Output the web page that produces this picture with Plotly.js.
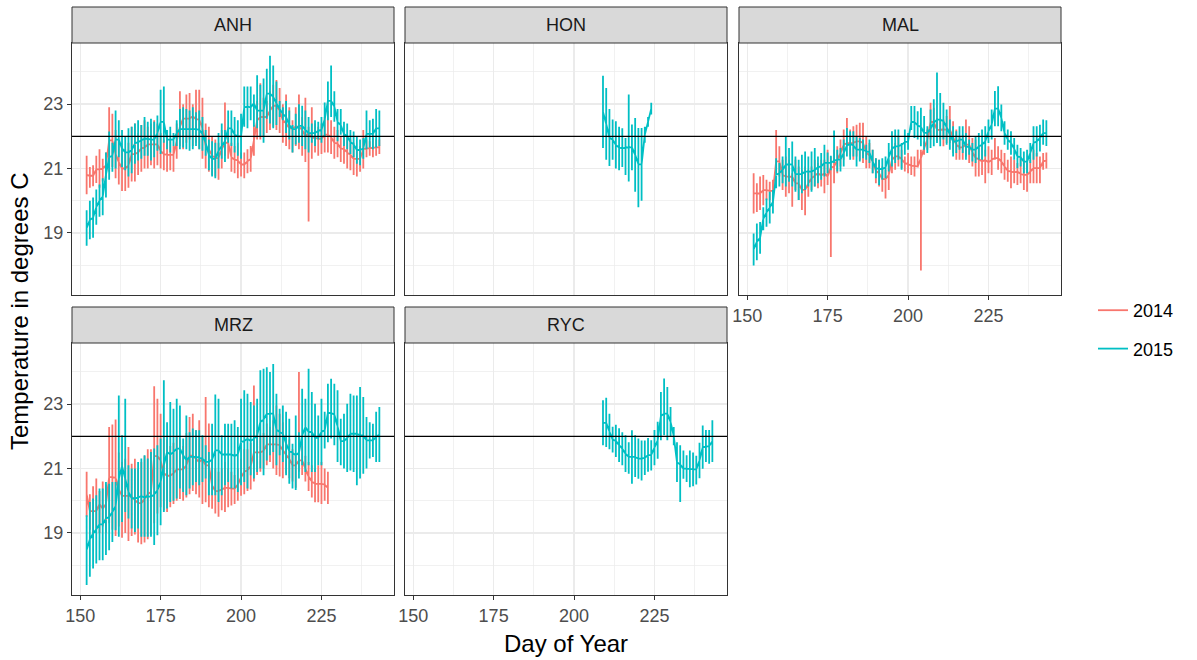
<!DOCTYPE html>
<html>
<head>
<meta charset="utf-8">
<script src="https://cdn.plot.ly/plotly-3.0.1.min.js"></script>
<style>html,body{margin:0;padding:0;background:#fff;}#chart{width:1197px;height:660px;}</style>
</head>
<body>
<div id="chart"></div>
<script>
// ---------------- data ----------------
const sites = ["ANH", "HON", "MAL", "MRZ", "RYC"];
const years = ["2014", "2015"];
const xTickVals = [150, 175, 200, 225];
const yTickVals = [19, 21, 23];
const refTemp = 22;

// ANH
const anh2014Start = 152;
const anh2014Lo = [20.2,20.4,20.45,20.55,20.4,20.6,20.7,20.9,21.05,20.7,20.5,20.3,20.3,20.4,20.6,20.6,20.8,20.9,21.0,21.0,21.1,21.0,21.1,21.0,20.95,20.9,20.95,20.9,21.3,21.7,21.6,21.8,21.9,21.7,21.8,21.6,21.3,21.0,20.9,20.8,20.75,20.65,21.0,21.4,21.3,20.9,20.85,20.7,20.75,20.7,20.85,20.9,21.4,21.9,21.9,22.0,22.1,22.2,22.3,22.2,22.1,21.8,21.7,21.6,21.5,21.7,21.6,21.4,21.2,19.35,21.3,21.5,21.4,21.45,21.5,21.5,21.45,21.3,21.35,21.2,21.15,21.0,20.95,20.8,20.75,20.9,21.0,21.35,21.4,21.35,21.4,21.45];
const anh2014Hi = [21.4,21.05,21.1,21.4,21.6,21.3,21.5,22.9,22.7,22.2,21.9,21.7,21.6,21.8,22.3,22.4,22.1,22.35,22.5,22.3,22.4,22.5,22.4,22.1,21.9,22.0,21.9,21.7,22.4,23.4,23.0,23.3,23.35,23.0,23.45,23.45,23.2,22.4,22.3,22.0,21.9,21.8,22.2,23.05,22.3,21.8,21.7,21.8,21.5,21.5,21.6,21.7,22.35,23.1,23.65,23.2,23.1,23.4,23.6,23.75,23.5,23.0,23.3,22.9,22.5,22.9,23.3,22.6,23.2,22.3,22.9,22.4,22.3,22.4,22.6,22.8,22.5,22.3,22.2,22.0,22.1,22.0,21.9,21.8,21.6,21.7,22.2,21.9,21.85,21.95,21.9,21.9];
const anh2015Start = 152;
const anh2015Lo = [18.6,18.8,18.85,19.25,19.5,19.55,20.1,20.65,20.9,21.0,21.35,21.05,20.95,20.75,20.85,21.15,21.25,21.3,21.4,21.4,21.25,21.35,21.55,21.45,21.8,21.6,21.5,21.7,21.7,21.6,21.65,21.6,21.55,21.6,21.7,21.6,21.55,21.4,20.95,20.75,20.7,21.0,21.3,21.2,21.8,21.7,21.5,21.4,21.3,22.3,22.25,22.5,22.3,22.25,22.0,21.8,22.55,22.4,22.25,22.35,22.6,22.5,22.1,21.9,21.5,21.75,21.8,21.7,21.6,21.5,21.8,21.7,21.9,21.8,22.0,22.5,22.6,22.45,21.85,22.05,21.7,21.6,21.45,21.35,21.15,21.1,21.3,21.6,21.65,21.6,21.65,21.7];
const anh2015Hi = [19.7,20.0,20.1,20.35,20.5,20.7,21.5,22.15,21.8,22.8,22.5,22.2,22.0,22.25,22.3,22.4,22.5,22.35,22.6,22.45,22.55,22.45,22.65,23.45,23.55,22.2,22.3,22.1,22.5,22.85,22.9,22.85,22.8,22.9,22.75,22.8,22.6,22.2,21.9,21.85,21.8,22.1,22.4,22.2,22.8,22.8,22.6,22.5,22.7,23.55,23.55,23.55,23.3,23.9,23.6,23.8,24.1,24.5,24.2,23.7,23.1,22.9,23.1,22.8,22.35,22.7,23.0,22.95,22.8,22.6,22.4,22.5,22.45,22.6,23.05,23.7,24.2,23.4,22.85,22.85,22.45,22.4,22.2,22.15,22.0,21.9,21.95,22.8,22.5,22.55,22.85,22.8];

// HON
const hon2015Start = 209;
const hon2015Lo = [21.64,21.27,21.08,21.27,21.0,20.95,21.05,20.8,20.6,20.95,20.28,19.8,20.0,21.8,22.3,22.68];
const hon2015Hi = [23.88,23.5,22.85,22.52,22.47,22.3,22.25,21.95,23.3,22.37,22.57,22.26,22.26,22.3,22.6,23.04];

// MAL
const mal2014Start = 152;
const mal2014Lo = [19.6,19.65,19.71,19.86,20.02,20.02,19.92,20.96,20.75,20.33,20.12,20.23,19.81,20.33,20.02,19.71,19.55,20.12,20.33,20.44,20.39,20.44,20.23,20.49,18.25,20.54,20.85,21.06,21.27,21.69,21.37,21.27,21.37,21.27,21.17,21.01,21.01,20.85,20.54,20.44,20.28,20.07,20.33,20.85,20.96,21.06,21.01,20.91,20.85,20.8,20.75,21.06,17.83,21.43,21.58,21.9,22.0,21.84,21.9,21.69,21.79,21.79,21.48,21.27,21.27,21.27,21.37,21.17,21.06,20.75,20.75,20.8,20.54,20.85,20.8,21.27,20.96,20.85,20.65,20.59,20.39,20.54,20.49,20.54,20.33,20.28,20.54,20.54,20.54,20.54,20.96,21.0];
const mal2014Hi = [20.85,20.54,20.75,20.8,20.65,20.59,20.65,22.2,21.69,21.27,21.37,21.27,20.85,21.27,21.06,20.96,21.06,20.96,21.06,21.27,21.17,21.27,21.27,21.58,21.37,21.58,21.69,21.9,22.21,22.57,22.21,22.31,22.36,22.42,22.42,22.0,21.79,21.58,21.32,21.27,21.06,20.96,21.27,21.69,21.79,22.0,21.58,21.37,21.48,21.37,21.37,21.58,21.58,21.84,22.21,23.04,22.89,22.57,22.52,22.52,22.63,22.94,22.47,22.21,22.0,22.05,22.52,22.31,21.95,21.9,21.69,21.79,21.58,21.69,21.58,21.95,21.69,21.58,21.48,21.27,21.37,21.27,21.17,21.37,21.27,21.17,21.27,21.58,21.48,21.37,21.48,21.5];
const mal2015Start = 152;
const mal2015Lo = [17.99,18.15,18.35,19.08,19.19,19.29,19.6,20.39,20.44,20.54,20.44,20.59,20.44,20.28,20.02,20.23,20.33,20.44,20.28,20.44,20.54,20.65,20.75,20.85,20.95,21.17,20.91,20.91,21.06,21.37,21.27,21.37,21.06,21.22,21.32,21.27,21.17,20.85,20.7,20.49,20.65,20.7,20.91,21.06,21.17,21.27,20.96,21.43,21.58,22.2,21.95,21.9,21.69,21.58,21.48,21.64,21.69,21.79,21.69,21.9,21.74,21.58,21.37,21.48,21.58,21.48,21.27,21.43,21.22,21.17,21.27,21.27,21.37,21.79,21.9,22.31,22.31,22.16,21.74,21.58,21.43,21.27,21.01,21.06,20.85,20.85,21.17,21.27,21.37,21.53,21.74,21.7];
const mal2015Hi = [18.98,19.29,19.34,19.8,20.07,20.28,20.33,21.32,21.17,21.37,22.0,21.64,21.84,21.37,21.27,21.43,21.53,21.37,21.53,21.64,21.37,21.48,21.74,21.5,21.4,22.18,21.58,21.64,21.9,22.26,22.16,22.16,22.0,21.95,21.9,21.74,21.9,21.58,21.32,21.27,21.32,21.37,21.79,22.16,22.21,22.21,21.79,22.21,22.1,22.94,22.94,22.78,22.89,22.63,22.31,22.83,23.15,23.98,23.35,23.04,22.83,22.52,22.31,22.16,22.31,22.31,22.1,21.9,21.79,22.0,22.1,22.21,22.31,22.52,22.83,23.41,23.56,22.99,22.47,22.21,22.16,21.95,21.74,21.64,21.53,21.58,21.79,22.31,22.31,22.36,22.52,22.5];

// MRZ
const mrz2014Start = 152;
const mrz2014Lo = [19.5,19.1,18.9,19.1,19.0,19.2,19.0,19.3,19.1,18.9,19.2,18.85,19.0,18.75,18.9,18.95,18.7,18.65,18.7,18.8,18.95,19.3,19.6,19.8,19.7,19.65,19.8,19.9,20.0,20.05,20.0,20.1,20.2,20.3,20.2,20.1,19.9,19.95,19.8,19.75,19.6,19.5,19.7,19.65,19.8,19.85,19.9,20.0,20.15,20.2,20.3,20.35,20.6,20.8,20.9,21.0,21.1,21.2,21.0,20.8,20.75,20.7,20.85,20.7,20.6,20.4,20.9,20.8,20.6,20.3,20.1,19.95,19.95,19.9,20.0,19.9];
const mrz2014Hi = [20.9,20.2,20.45,20.69,20.3,20.6,20.5,22.29,22.37,22.52,21.5,21.2,21.3,21.67,21.15,21.3,21.0,21.2,21.4,21.6,21.6,23.56,23.17,22.7,22.0,21.9,21.7,21.8,22.0,21.9,21.7,22.1,22.6,22.7,22.2,22.5,22.0,23.22,22.4,21.2,21.0,20.9,21.0,21.2,21.0,20.9,20.8,21.0,21.3,21.6,21.6,21.8,23.58,22.2,22.0,22.1,22.4,22.3,22.5,22.96,22.7,22.44,22.0,21.9,21.6,21.4,24.0,21.7,21.4,21.2,21.1,21.0,21.1,21.2,21.0,20.9];
const mrz2015Start = 152;
const mrz2015Lo = [17.38,17.64,17.89,18.05,18.15,18.15,18.31,18.46,18.72,19.08,18.88,19.34,19.65,19.45,19.14,19.03,19.14,18.88,18.88,18.88,18.88,18.62,18.93,19.24,19.65,19.76,19.96,20.0,20.07,20.38,20.27,20.17,20.38,20.48,20.58,20.48,20.58,20.69,20.17,20.17,20.17,19.96,20.17,20.48,20.58,20.38,20.38,20.27,20.48,20.58,20.38,20.79,20.69,20.89,21.0,20.79,21.25,21.41,21.51,21.1,21.41,21.2,20.79,20.53,20.38,20.33,20.69,21.1,20.89,21.1,20.89,20.89,21.1,21.1,21.62,21.82,21.93,21.72,21.2,21.1,21.0,20.89,20.94,20.89,20.48,20.69,20.84,21.0,21.31,21.36,21.2,21.2];
const mrz2015Hi = [19.55,19.96,20.07,20.17,20.38,20.38,20.58,20.53,20.58,20.58,23.27,22.03,23.17,21.1,21.0,21.0,21.2,21.31,21.41,21.31,21.51,21.62,21.72,21.93,23.74,22.44,23.07,22.86,23.17,22.96,21.93,22.65,22.13,22.24,22.19,22.19,22.03,21.72,21.51,22.39,23.3,23.17,22.03,22.39,22.39,22.39,22.5,22.29,23.17,23.43,23.32,23.07,22.96,23.17,24.05,24.1,24.15,24.0,24.25,23.32,22.86,22.96,22.76,22.55,21.77,22.65,22.13,23.48,23.17,24.1,23.38,23.01,22.65,23.17,22.76,23.63,23.79,23.63,23.43,22.55,22.7,23.01,23.32,23.27,23.27,23.53,23.22,22.6,22.44,22.39,22.76,22.91];

// RYC
const ryc2015Start = 209;
const ryc2015Lo = [21.72,21.67,21.6,21.5,21.36,21.2,21.1,20.89,20.84,20.53,20.74,20.68,20.63,20.8,20.9,20.94,21.1,21.3,21.88,22.03,21.88,21.98,21.72,20.58,19.96,20.68,20.58,20.42,20.45,20.5,20.7,20.99,21.2,21.15,21.2];
const ryc2015Hi = [23.12,23.2,22.7,22.3,22.36,22.25,22.13,22.03,21.82,22.19,22.03,21.93,21.87,21.87,21.95,21.88,22.2,22.45,23.38,23.8,23.53,22.91,22.29,21.82,21.72,21.56,21.41,21.56,21.5,21.4,21.8,22.34,22.2,22.2,22.5];

// ---------------- styling ----------------
const colors = {"2014": "#F8766D", "2015": "#00BFC4"};
const FONT = "Liberation Sans, Arial, Helvetica, sans-serif";
const W = 1197, H = 660;
const colPx = [[72, 394], [405, 727], [739, 1061]];
const rowPx = [[43, 295], [343, 595]];   // plot areas (top, bottom)
const stripH = 36;

const panelPos = {ANH: [0, 0], HON: [1, 0], MAL: [2, 0], MRZ: [0, 1], RYC: [1, 1]};
const showXLabels = {ANH: false, HON: false, MAL: true, MRZ: true, RYC: true};
const showYLabels = {ANH: true, HON: false, MAL: false, MRZ: true, RYC: false};

const series = [
  {site: "ANH", year: "2014", start: anh2014Start, lo: anh2014Lo, hi: anh2014Hi},
  {site: "MAL", year: "2014", start: mal2014Start, lo: mal2014Lo, hi: mal2014Hi},
  {site: "MRZ", year: "2014", start: mrz2014Start, lo: mrz2014Lo, hi: mrz2014Hi},
  {site: "ANH", year: "2015", start: anh2015Start, lo: anh2015Lo, hi: anh2015Hi},
  {site: "HON", year: "2015", start: hon2015Start, lo: hon2015Lo, hi: hon2015Hi},
  {site: "MAL", year: "2015", start: mal2015Start, lo: mal2015Lo, hi: mal2015Hi},
  {site: "MRZ", year: "2015", start: mrz2015Start, lo: mrz2015Lo, hi: mrz2015Hi},
  {site: "RYC", year: "2015", start: ryc2015Start, lo: ryc2015Lo, hi: ryc2015Hi}
];

function axisSuffix(site) { const i = sites.indexOf(site) + 1; return i === 1 ? "" : String(i); }
function median3(a, b, c) { return Math.max(Math.min(a, b), Math.min(Math.max(a, b), c)); }

const traces = [];
const legendShown = {};
series.forEach(s => {
  const n = s.lo.length;
  const mids = s.lo.map((v, i) => (v + s.hi[i]) / 2);
  // night-time level where one day's readings join the next: robust to one-off spikes
  const joins = mids.map((m, i) => median3(mids[Math.max(0, i - 1)], m, mids[Math.min(n - 1, i + 1)]));
  const x = [], y = [];
  for (let i = 0; i < n; i++) {
    const d = s.start + i;
    const j = Math.min(Math.max(joins[i], s.lo[i]), s.hi[i]);
    x.push(d, d, d, d);
    y.push(j, s.lo[i], s.hi[i], j);
  }
  const sfx = axisSuffix(s.site);
  const show = !legendShown[s.year];
  legendShown[s.year] = true;
  traces.push({
    type: "scatter", mode: "lines", x: x, y: y,
    xaxis: "x" + sfx, yaxis: "y" + sfx,
    name: s.year, legendgroup: s.year, showlegend: show,
    line: {color: colors[s.year], width: 1.8},
    hoverinfo: "skip"
  });
});

const layout = {
  width: W, height: H,
  margin: {l: 0, r: 0, t: 0, b: 0},
  paper_bgcolor: "#ffffff", plot_bgcolor: "#ffffff",
  font: {family: FONT, size: 18, color: "#1A1A1A"},
  showlegend: true,
  legend: {
    x: 1093 / W, y: 1 - 292 / H, xanchor: "left", yanchor: "top",
    font: {family: FONT, size: 18, color: "#000000"},
    tracegroupgap: 12, itemwidth: 30, bgcolor: "rgba(0,0,0,0)",
    traceorder: "grouped"
  },
  shapes: [], annotations: []
};

sites.forEach(site => {
  const [c, r] = panelPos[site];
  const sfx = axisSuffix(site);
  const xd = [colPx[c][0] / W, colPx[c][1] / W];
  const yd = [1 - rowPx[r][1] / H, 1 - rowPx[r][0] / H];
  layout["xaxis" + sfx] = {
    domain: xd, range: [147.45, 247.55], anchor: "y" + sfx,
    tickmode: "array", tickvals: xTickVals, ticktext: xTickVals.map(String),
    showgrid: true, gridcolor: "#EBEBEB", gridwidth: 1.4,
    minor: {tickvals: [162.5, 187.5, 212.5, 237.5], showgrid: true, gridcolor: "#EBEBEB", gridwidth: 0.7},
    showline: true, mirror: true, linecolor: "#333333", linewidth: 1,
    zeroline: false,
    ticks: showXLabels[site] ? "outside" : "", ticklen: 4, tickcolor: "#333333", tickwidth: 1,
    showticklabels: showXLabels[site],
    tickfont: {family: FONT, size: 18, color: "#4D4D4D"}
  };
  layout["yaxis" + sfx] = {
    domain: yd, range: [17.07, 24.9], anchor: "x" + sfx,
    tickmode: "array", tickvals: yTickVals, ticktext: yTickVals.map(String),
    showgrid: true, gridcolor: "#EBEBEB", gridwidth: 1.4,
    minor: {tickvals: [18, 20, 22, 24], showgrid: true, gridcolor: "#EBEBEB", gridwidth: 0.7},
    showline: true, mirror: true, linecolor: "#333333", linewidth: 1,
    zeroline: false,
    ticks: showYLabels[site] ? "outside" : "", ticklen: 4, tickcolor: "#333333", tickwidth: 1,
    showticklabels: showYLabels[site],
    tickfont: {family: FONT, size: 18, color: "#4D4D4D"}
  };

  layout.shapes.push({
    type: "line", xref: "x" + sfx + " domain", x0: 0, x1: 1,
    yref: "y" + sfx, y0: refTemp, y1: refTemp,
    line: {color: "#000000", width: 1.4}, layer: "above"
  });
  const top = rowPx[r][0] - stripH;
  layout.shapes.push({
    type: "rect", xref: "paper", yref: "paper",
    x0: xd[0], x1: xd[1], y0: 1 - rowPx[r][0] / H, y1: 1 - top / H,
    fillcolor: "#D9D9D9", line: {color: "#333333", width: 1}, layer: "above"
  });
  layout.annotations.push({
    text: site, xref: "paper", yref: "paper",
    x: (xd[0] + xd[1]) / 2, y: 1 - (top + stripH / 2) / H,
    xanchor: "center", yanchor: "middle", showarrow: false,
    font: {family: FONT, size: 18, color: "#1A1A1A"}
  });
});

layout.annotations.push({
  text: "Day of Year", xref: "paper", yref: "paper",
  x: 566 / W, y: 1 - 643 / H, xanchor: "center", yanchor: "middle",
  showarrow: false, font: {family: FONT, size: 24, color: "#000000"}
});
layout.annotations.push({
  text: "Temperature in degrees C", xref: "paper", yref: "paper",
  x: 20 / W, y: 1 - 312 / H, xanchor: "center", yanchor: "middle", textangle: -90,
  showarrow: false, font: {family: FONT, size: 24, color: "#000000"}
});

Plotly.newPlot("chart", traces, layout, {staticPlot: true, displayModeBar: false});
</script>
</body>
</html>
